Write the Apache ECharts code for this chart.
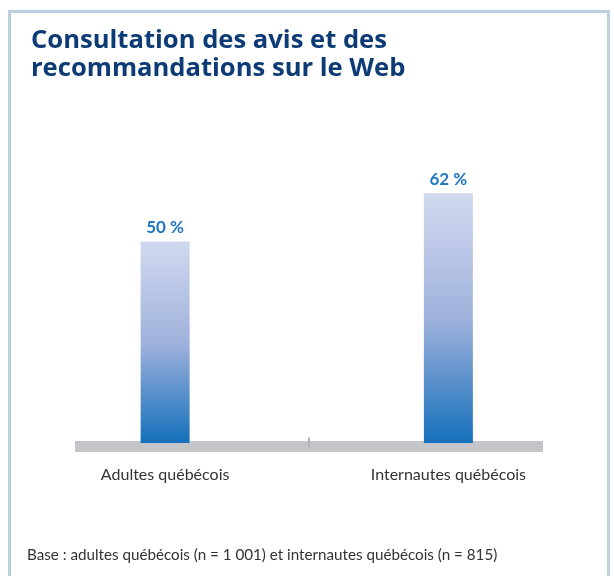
<!DOCTYPE html>
<html>
<head>
<meta charset="utf-8">
<script src="https://cdn.jsdelivr.net/npm/echarts@6/dist/echarts.min.js"></script>
<style>
  html, body { margin: 0; padding: 0; background: #fff; }
  #chart { width: 614px; height: 576px; }
</style>
</head>
<body>
<div id="chart"></div>
<script>
// données
var titre = "Consultation des avis et des\nrecommandations sur le Web";
var categories = ["Adultes québécois", "Internautes québécois"];
var valeurs = [50, 62];
var note = "Base : adultes québécois (n = 1 001) et internautes québécois (n = 815)";

var narrow = "Lato, sans-serif";

var myChart = echarts.init(document.getElementById("chart"));

var option = {
  animation: false,
  title: {
    text: titre,
    left: 26,
    top: 22,
    textStyle: {
      fontFamily: "'Open Sans'",
      fontWeight: "bold",
      fontSize: 25.6,
      lineHeight: 28,
      color: "#0c3b76"
    }
  },
  graphic: [
    {
      // cadre
      type: "rect",
      shape: { x: 9.5, y: 11.5, width: 599, height: 620 },
      style: { fill: null, stroke: "#b9d0e0", lineWidth: 3 },
      silent: true
    },
    {
      type: "text",
      left: 27,
      top: 548,
      style: {
        text: note,
        font: "15.2px " + narrow,
        fill: "#333333"
      }
    }
  ],
  grid: [
    // barres
    { left: 23.5, right: 24, top: 40, bottom: 133 },
    // bande grise de l'axe
    { left: 75, right: 71, top: 300, bottom: 129.5 }
  ],
  xAxis: [
    {
      type: "category",
      gridIndex: 0,
      data: categories,
      axisLine: { show: false },
      axisTick: { show: false },
      axisLabel: {
        margin: 24,
        fontFamily: narrow,
        fontSize: 16,
        color: "#333333"
      }
    },
    {
      type: "value",
      gridIndex: 1,
      min: 0,
      max: 2,
      interval: 1,
      axisLine: { show: true, lineStyle: { color: "#c4c5c8", width: 11, cap: "butt" } },
      axisTick: {
        show: true,
        inside: true,
        length: 9,
        customValues: [1],
        lineStyle: { color: "#b0b2b5", width: 2 }
      },
      axisLabel: { show: false },
      splitLine: { show: false }
    }
  ],
  yAxis: [
    { type: "value", gridIndex: 0, min: 0, max: 100, show: false },
    { type: "value", gridIndex: 1, show: false }
  ],
  series: [
    {
      type: "bar",
      xAxisIndex: 0,
      yAxisIndex: 0,
      data: valeurs,
      barWidth: 49,
      z: 5,
      itemStyle: {
        color: new echarts.graphic.LinearGradient(0, 0, 0, 1, [
          { offset: 0, color: "#d1d9ef" },
          { offset: 0.5, color: "#a0b2dc" },
          { offset: 1, color: "#1570bb" }
        ])
      },
      label: {
        show: true,
        position: "top",
        distance: 5,
        formatter: "{c} %",
        fontFamily: narrow,
        fontWeight: "bold",
        fontSize: 17,
        color: "#1e77c0"
      }
    }
  ]
};

myChart.setOption(option);
</script>
</body>
</html>
